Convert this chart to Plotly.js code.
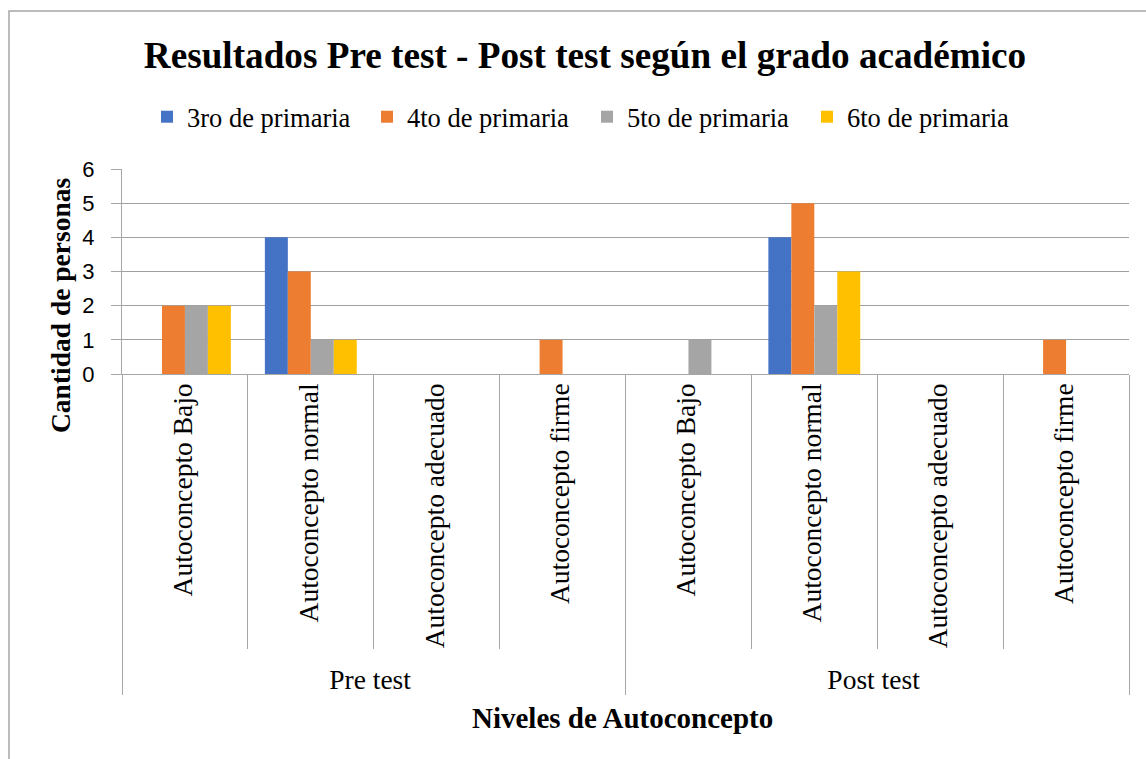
<!DOCTYPE html>
<html>
<head>
<meta charset="utf-8">
<script src="https://cdn.plot.ly/plotly-3.0.1.min.js"></script>
<style>html,body{margin:0;padding:0;background:#fff;}#chart{width:1146px;height:759px;}</style>
</head>
<body>
<div id="chart"></div>
<script>
const groups = ["Pre test","Pre test","Pre test","Pre test","Post test","Post test","Post test","Post test"];
const levels = ["Autoconcepto Bajo","Autoconcepto normal","Autoconcepto adecuado","Autoconcepto firme",
                "Autoconcepto Bajo","Autoconcepto normal","Autoconcepto adecuado","Autoconcepto firme"];
const seriesNames = ["3ro de primaria","4to de primaria","5to de primaria","6to de primaria"];
const tercero = [0,4,0,0, 0,4,0,0];
const cuarto  = [2,3,0,1, 0,5,0,1];
const quinto  = [2,1,0,0, 1,2,0,0];
const sexto   = [2,1,0,0, 0,3,0,0];
const colors = ["#4472C4","#ED7D31","#A5A5A5","#FFC000"];
const yTicks = [0,1,2,3,4,5,6];

const serif = "Liberation Serif, Times New Roman, serif";
const big = s => '<span style="font-size:27.5px">' + s + '</span>';
const gLabels = groups.map(big);
const lLabels = levels.map(big);
const values = [tercero, cuarto, quinto, sexto];
const data = values.map((v,i)=>({
  type:"bar", name: seriesNames[i], x:[gLabels, lLabels], y:v,
  marker:{color:colors[i], line:{width:0}}
}));

// plot box pixels: left 122, right 1129, top 169, bottom 374
const L=122,R=1129,T=169,B=374;
const px = x => (x-L)/(R-L);
const py = y => (B-y)/(B-T);

const layout = {
  width:1146, height:759,
  margin:{l:L, r:1146-R, t:T, b:759-B, pad:0},
  paper_bgcolor:"#fff", plot_bgcolor:"#fff",
  barmode:"group", bargap:0.27, bargroupgap:0,
  showlegend:true,
  legend:{orientation:"h", x:px(147), xanchor:"left", y:py(117), yanchor:"middle",
          font:{family:serif, size:26.5, color:"#000"}, entrywidth:175, entrywidthmode:"pixels",
          traceorder:"normal", itemclick:false},
  title:{text:"<b>Resultados Pre test - Post test según el grado académico</b>",
         x:585/1146, xanchor:"center", y:1-55/759, yanchor:"middle",
         font:{family:serif, size:37.2, color:"#000"}},
  xaxis:{type:"multicategory", tickangle:-90, tickson:"boundaries", ticks:"outside",
         ticklen:274, tickcolor:"#a6a6a6", tickwidth:1,
         showline:true, linecolor:"#a6a6a6", linewidth:1,
         showdividers:true, dividercolor:"#a6a6a6", dividerwidth:1,
         tickfont:{family:serif, size:21, color:"#000"}, showgrid:false, zeroline:false},
  yaxis:{range:[0,6], tickvals:yTicks, ticks:"outside", ticklen:10, tickcolor:"#a6a6a6",
         showline:true, linecolor:"#a6a6a6", linewidth:1, ticklabelstandoff:12,
         showgrid:true, gridcolor:"#a0a0a0", gridwidth:1, zeroline:false,
         tickfont:{family:"Liberation Sans, Arial, sans-serif", size:22, color:"#000"}},
  annotations:[
    {text:"<b>Cantidad de personas</b>", xref:"paper", yref:"paper", x:px(60), y:py(306),
     xanchor:"center", yanchor:"middle",
     textangle:-90, showarrow:false, font:{family:serif, size:27.5, color:"#000"}},
    {text:"<b>Niveles de Autoconcepto</b>", xref:"paper", yref:"paper", x:px(622), y:py(718),
     xanchor:"center", yanchor:"middle",
     showarrow:false, font:{family:serif, size:29, color:"#000"}}
  ],
  shapes:[
    {type:"rect", xref:"paper", yref:"paper", x0:px(9), x1:px(1160), y0:py(780), y1:py(11),
     line:{color:"#a6a6a6", width:1.5}, fillcolor:"rgba(0,0,0,0)", layer:"below"}
  ]
};
Plotly.newPlot("chart", data, layout, {staticPlot:true});
</script>
</body>
</html>
